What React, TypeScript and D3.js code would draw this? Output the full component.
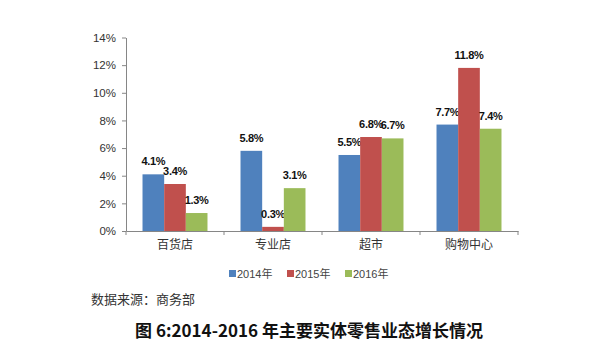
import React, { useRef, useEffect } from 'react'
import { select, scaleBand, scaleLinear, axisLeft, axisBottom } from 'd3'

const categories = ['百货店', '专业店', '超市', '购物中心']
const years = ['2014年', '2015年', '2016年']
const values2014 = [4.1, 5.8, 5.5, 7.7]
const values2015 = [3.4, 0.3, 6.8, 11.8]
const values2016 = [1.3, 3.1, 6.7, 7.4]
const yTicks = [0, 2, 4, 6, 8, 10, 12, 14]
const colors = ['#4F81BD', '#C0504D', '#9BBB59']

const W = 600
const H = 364

export default function App () {
  const ref = useRef<SVGSVGElement>(null)

  useEffect(() => {
    if (ref.current === null) return
    const svg = select(ref.current)
    svg.selectAll('*').remove()

    const series = [values2014, values2015, values2016]
    const left = 126, right = 518, top = 37.5, bottom = 231

    const x = scaleBand<string>().domain(categories).range([left, right])
      .paddingInner(0.337).paddingOuter(0.1685)
    const xs = scaleBand<string>().domain(years).range([0, x.bandwidth()])
    const y = scaleLinear().domain([0, 14]).range([bottom, top])

    const font = '"Liberation Sans", "Noto Sans CJK SC", sans-serif'

    // y axis
    const yAxis = svg.append('g')
      .attr('transform', `translate(${left},0)`)
      .call(axisLeft(y).tickValues(yTicks).tickFormat((d: any) => d + '%').tickSize(4).tickSizeOuter(0))
    yAxis.select('.domain').attr('stroke', '#868686')
    yAxis.selectAll('.tick line').attr('stroke', '#868686')
    yAxis.selectAll('.tick text')
      .attr('x', -10)
      .attr('fill', '#333')
      .style('font-family', font)
      .style('font-size', '11.5px')

    // bars
    series.forEach((vals, si) => {
      const g = svg.append('g')
      g.selectAll('rect')
        .data(vals)
        .enter()
        .append('rect')
        .attr('x', (_d, i) => (x(categories[i]) as number) + (xs(years[si]) as number))
        .attr('y', d => y(d))
        .attr('width', xs.bandwidth())
        .attr('height', d => bottom - y(d))
        .attr('fill', colors[si])
      g.selectAll('text')
        .data(vals)
        .enter()
        .append('text')
        .attr('x', (_d, i) => (x(categories[i]) as number) + (xs(years[si]) as number) + xs.bandwidth() / 2)
        .attr('y', d => y(d) - 9)
        .attr('text-anchor', 'middle')
        .attr('fill', '#111')
        .style('font-family', font)
        .style('font-weight', 'bold')
        .style('font-size', '11px')
        .style('letter-spacing', '-0.3px')
        .text(d => d.toFixed(1) + '%')
    })

    // x axis
    const xAxis = svg.append('g')
      .attr('transform', `translate(0,${bottom})`)
      .call(axisBottom(x).tickSize(0).tickSizeOuter(0))
    xAxis.select('.domain').attr('stroke', '#868686')
    xAxis.selectAll('.tick text')
      .attr('y', 9)
      .attr('fill', '#333')
      .style('font-family', '"Noto Sans CJK SC", serif')
      .style('font-size', '12px')
    const step = x.step()
    svg.append('g').selectAll('line')
      .data([0, 1, 2, 3, 4])
      .enter()
      .append('line')
      .attr('x1', d => left + d * step)
      .attr('x2', d => left + d * step)
      .attr('y1', bottom)
      .attr('y2', bottom + 4)
      .attr('stroke', '#868686')

    // legend
    const legendX = [229, 287, 345]
    const lg = svg.append('g')
    years.forEach((yr, i) => {
      lg.append('rect')
        .attr('x', legendX[i]).attr('y', 270)
        .attr('width', 7).attr('height', 7)
        .attr('fill', colors[i])
      lg.append('text')
        .attr('x', legendX[i] + 8).attr('y', 277.5)
        .attr('fill', '#444')
        .style('font-family', font)
        .style('font-size', '11px')
        .text(yr)
    })

    // source
    svg.append('text')
      .attr('x', 91).attr('y', 304)
      .attr('fill', '#333')
      .style('font-family', '"Noto Sans CJK SC", serif')
      .style('font-size', '13px')
      .text('数据来源：商务部')

    // title
    svg.append('text')
      .attr('x', 309).attr('y', 337)
      .attr('text-anchor', 'middle')
      .attr('fill', '#111')
      .style('font-family', '"Noto Sans CJK SC", sans-serif')
      .style('font-weight', 'bold')
      .style('font-size', '17px')
      .text('图 6:2014-2016 年主要实体零售业态增长情况')
  }, [])

  return (
    <svg ref={ref} width={W} height={H}
      style={{ position: 'absolute', left: 0, top: 0, background: '#fff' }} />
  )
}
